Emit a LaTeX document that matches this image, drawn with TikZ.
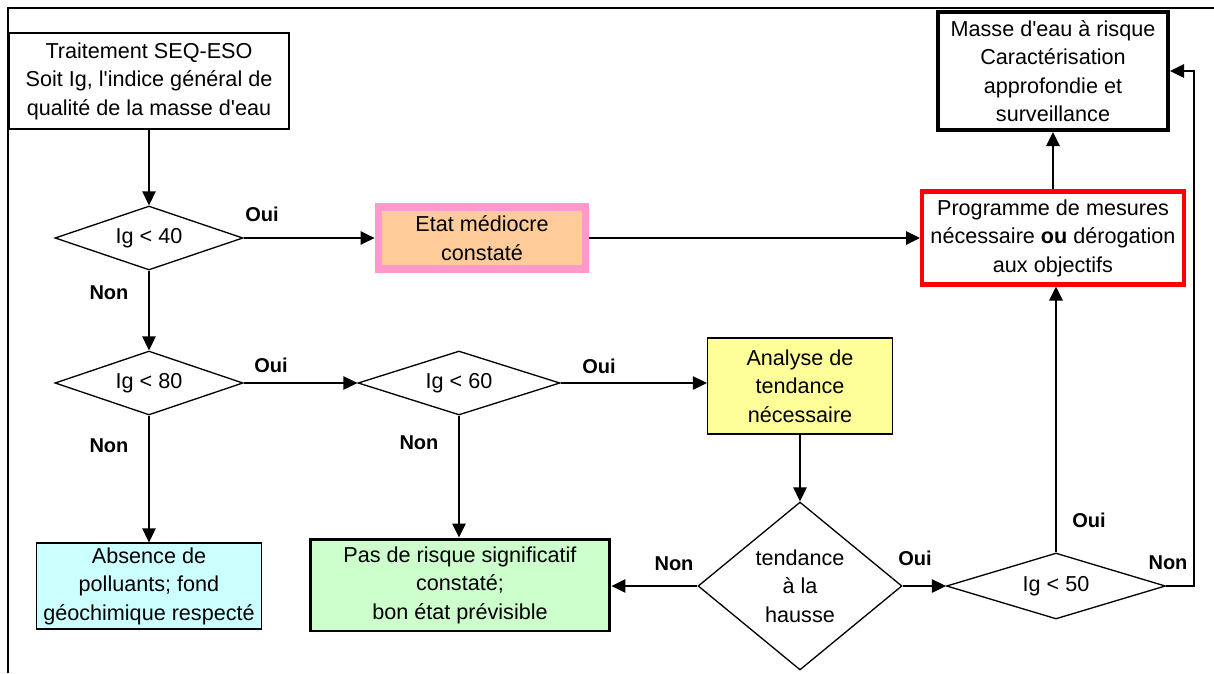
\documentclass[tikz,border=0pt]{standalone}
\usepackage{fontspec}
\setmainfont{Liberation Sans}[Ligatures=TeXOff]
\usetikzlibrary{shapes.geometric,arrows.meta}
\definecolor{etatFill}{HTML}{FFCC99}
\definecolor{etatLine}{HTML}{FF99CC}
\definecolor{anaFill}{HTML}{FFFF99}
\definecolor{absFill}{HTML}{CCFFFF}
\definecolor{pasFill}{HTML}{CCFFCC}
\definecolor{progLine}{HTML}{FF0000}

\begin{document}
\begin{tikzpicture}[x=0.02cm, y=-0.02cm,
  txt/.style={font=\fontsize{12.3}{16.2}\selectfont},
  box/.style={txt, draw, line width=0.75pt, align=center, inner sep=0pt},
  test/.style={txt, diamond, draw, line width=0.75pt, align=center, inner sep=0pt},
  flattest/.style={test, aspect=3},
  lab/.style={font=\bfseries\fontsize{11.4}{12}\selectfont},
  arr/.style={line width=0.75pt, -{Triangle[length=0.28cm,width=0.27cm]}}]

% --- PAGE AND FRAME ---
\useasboundingbox (0,0) rectangle (1214,673);
\draw[line width=0.75pt] (8,673) |- (1214,8);

% --- BOXES ---
\node[box, minimum width=5.6cm, minimum height=1.92cm] (start) at (149,81)
  {Traitement SEQ-ESO\\Soit Ig, l'indice général de\\qualité de la masse d'eau};
\node[box, fill=etatFill, draw=etatLine, line width=4.5pt,
  minimum width=4.14cm, minimum height=1.24cm] (etat) at (482,238)
  {Etat médiocre\\constaté};
\node[box, draw=progLine, line width=2.3pt,
  minimum width=5.24cm, minimum height=1.86cm] (prog) at (1053,238)
  {Programme de mesures\\nécessaire \textbf{ou} dérogation\\aux objectifs};
\node[box, line width=2.3pt, minimum width=4.6cm, minimum height=2.36cm] (masse) at (1053,71)
  {Masse d'eau à risque\\Caractérisation\\approfondie et\\surveillance};
\node[box, fill=anaFill, minimum width=3.7cm, minimum height=1.92cm] (ana) at (800,386)
  {Analyse de\\tendance\\nécessaire};
\node[box, fill=absFill, minimum width=4.5cm, minimum height=1.72cm] (abs) at (149,586)
  {Absence de\\polluants; fond\\géochimique respecté};
\node[box, fill=pasFill, line width=1.7pt, minimum width=6.0cm, minimum height=1.84cm] (pas) at (460,585)
  {Pas de risque significatif\\constaté;\\bon état prévisible};

% --- TESTS ---
\node[flattest, minimum width=3.76cm, minimum height=1.28cm] (d40) at (149,238) {Ig < 40};
\node[flattest, minimum width=3.76cm, minimum height=1.28cm] (d80) at (149,383) {Ig < 80};
\node[flattest, minimum width=4.04cm, minimum height=1.28cm] (d60) at (459,383) {Ig < 60};
\node[test, minimum width=4.08cm, minimum height=3.36cm] (dtend) at (800,586)
  {tendance\\à la\\hausse};
\node[flattest, minimum width=4.38cm, minimum height=1.32cm] (d50) at (1056,586) {Ig < 50};

% --- LABELS ---
\node[lab] (oui40) at (262,214) {Oui};
\node[lab] (non40) at (109,293) {Non};
\node[lab] (oui80) at (271,365) {Oui};
\node[lab] (non80) at (109,446) {Non};
\node[lab] (oui60) at (599,366) {Oui};
\node[lab] (non60) at (419,443) {Non};
\node[lab] (nontend) at (674,564) {Non};
\node[lab] (ouitend) at (915,558) {Oui};
\node[lab] (oui50) at (1089,520) {Oui};
\node[lab] (non50) at (1168,563) {Non};

% --- CONNECTORS ---
\coordinate (bend) at (1194,71);
\draw[arr] (start) -- (d40);
\draw[arr] (d40) -- (etat);
\draw[arr] (etat) -- (prog);
\draw[arr] (prog) -- (masse);
\draw[arr] (d40) -- (d80);
\draw[arr] (d80) -- (d60);
\draw[arr] (d60.east) -- (d60.east -| ana.west);
\draw[arr] (d80) -- (abs);
\draw[arr] (d60.south) -- (d60.south |- pas.north);
\draw[arr] (ana) -- (dtend);
\draw[arr] (dtend.west) -- (dtend.west -| pas.east);
\draw[arr] (dtend) -- (d50);
\draw[arr] (d50.north) -- (d50.north |- prog.south);
\draw[arr] (d50.east) -| (bend) -- (masse.east);

\end{tikzpicture}
\end{document}
